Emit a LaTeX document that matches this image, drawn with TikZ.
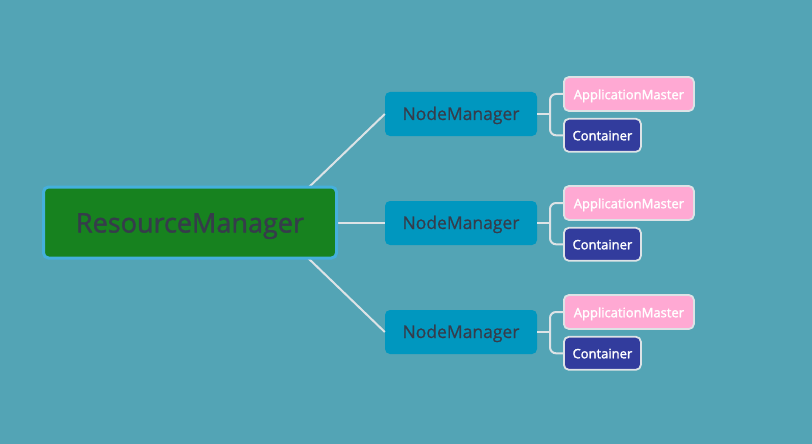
\documentclass[tikz,border=0pt]{standalone}
\usepackage{fontspec}
\setmainfont{Open Sans}
\newfontfamily\bigmed[FakeBold=1.4]{Open Sans}
\newfontfamily\mainmed[FakeBold=0.6]{Open Sans}
\newfontfamily\childmed[FakeBold=1.8]{Open Sans}
\usetikzlibrary{positioning}
\definecolor{bgteal}{HTML}{53A4B5}
\definecolor{rmgreen}{HTML}{17821F}
\definecolor{rmframe}{HTML}{45B0DC}
\definecolor{nmblue}{HTML}{0097BF}
\definecolor{ampink}{HTML}{FFA9D3}
\definecolor{connavy}{HTML}{323C9D}
\definecolor{darktext}{HTML}{363C4B}
\definecolor{linkgrey}{HTML}{DDE3E6}
\tikzset{
	resmgr/.style={draw=rmframe, line width=3pt, fill=rmgreen, rounded corners=5pt, minimum width=293pt, minimum height=71pt, text height=20pt, text depth=0pt, text=darktext, font=\bigmed\fontsize{27}{30}\selectfont},
	nodemgr/.style={rectangle, fill=nmblue, rounded corners=5pt, minimum width=152pt, minimum height=44pt, text height=12pt, text depth=0pt, text=darktext, font=\mainmed\fontsize{17.5}{19}\selectfont},
	appmaster/.style={draw=linkgrey, line width=1.8pt, fill=ampink, rounded corners=5pt, minimum width=130pt, minimum height=34pt, text height=10.5pt, text depth=0pt, text=white, font=\childmed\fontsize{13}{15}\selectfont},
	container/.style={draw=linkgrey, line width=1.8pt, fill=connavy, rounded corners=5pt, minimum width=77pt, minimum height=33pt, text height=10pt, text depth=0pt, text=white, font=\childmed\fontsize{13}{15}\selectfont},
	link/.style={draw=linkgrey, line width=2pt},
}
\begin{document}
\begin{tikzpicture}[x=1pt, y=-1pt]
		
		\fill[bgteal] (0,0) rectangle (812,444);
		\useasboundingbox (0,0) rectangle (812,444);
		
		\coordinate (b1) at (550,114);
		\coordinate (b2) at (550,223);
		\coordinate (b3) at (550,332);
		\coordinate (rmtop) at (307,189);
		\coordinate (rmmid) at (330,223);
		\coordinate (rmbot) at (307,257);
		
		\node (nm1) [nodemgr] at (461,114) {NodeManager};
		\node (nm2) [nodemgr] at (461,223) {NodeManager};
		\node (nm3) [nodemgr] at (461,332) {NodeManager};
		
		% children of each node manager
		\node (am1) [appmaster, anchor=west] at (563,94) {ApplicationMaster};
		\node (con1) [container, below=6pt of am1.south west, anchor=north west] {Container};
		\node (am2) [appmaster, anchor=west] at (563,203) {ApplicationMaster};
		\node (con2) [container, below=6pt of am2.south west, anchor=north west] {Container};
		\node (am3) [appmaster, anchor=west] at (563,312) {ApplicationMaster};
		\node (con3) [container, below=6pt of am3.south west, anchor=north west] {Container};
		
		\begin{scope}[link]
			\draw (rmtop) -- (nm1.west);
			\draw (rmmid) -- (nm2.west);
			\draw (rmbot) -- (nm3.west);
			\draw (nm1.east) -- (b1);
			\draw (nm2.east) -- (b2);
			\draw (nm3.east) -- (b3);
			\draw [rounded corners=6pt] (am1.west) -| (b1) |- (con1.west);
			\draw [rounded corners=6pt] (am2.west) -| (b2) |- (con2.west);
			\draw [rounded corners=6pt] (am3.west) -| (b3) |- (con3.west);
		\end{scope}
		
		\node (rm) [resmgr] at (190,222.5) {ResourceManager};
	\end{tikzpicture}
\end{document}
